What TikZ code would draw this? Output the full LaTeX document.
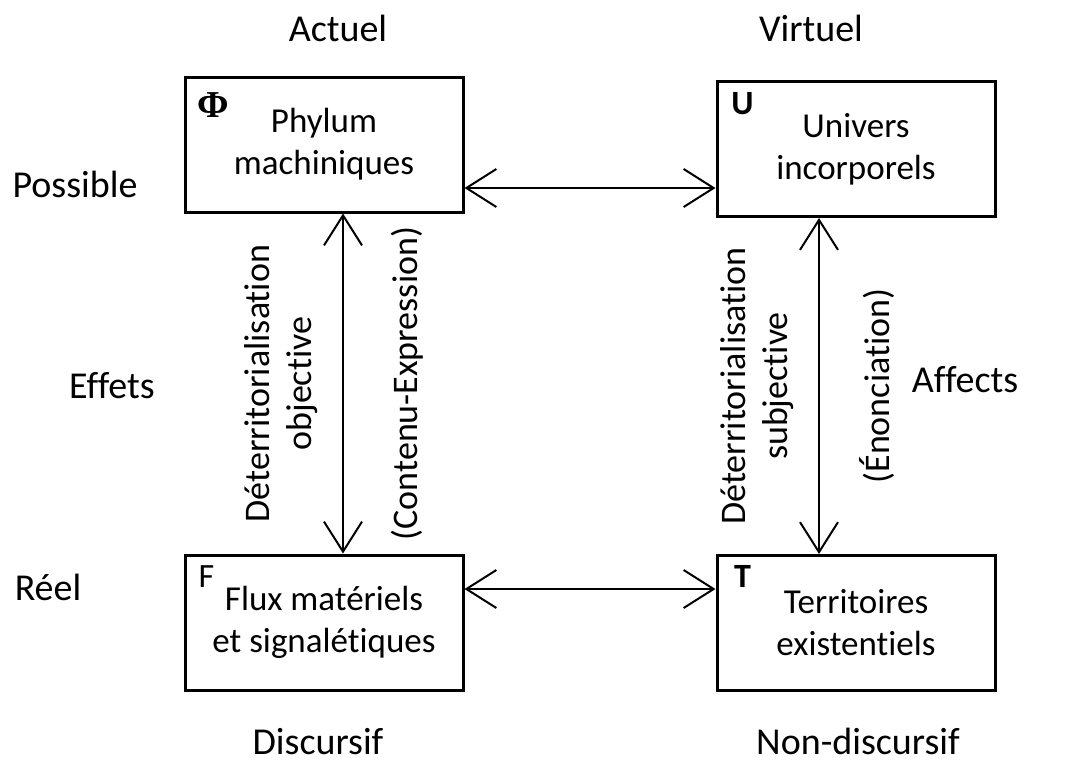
\documentclass[tikz,border=0pt]{standalone}
\usepackage{fontspec}
\setmainfont{Carlito}[RawFeature={-liga;-clig;-dlig}]
\newfontfamily\tagserif{Liberation Serif}
\usetikzlibrary{arrows.meta, positioning, calc}

\begin{document}
\begin{tikzpicture}[
    x=0.5pt, y=-0.5pt,
    cell/.style={draw, line width=1.5pt, minimum width=139pt, minimum height=67.5pt, align=center, font=\fontsize{17.5}{21}\selectfont},
    tag/.style={inner sep=0pt, font=\fontsize{17}{17}\selectfont\bfseries},
    axis/.style={anchor=base, inner sep=1pt, font=\fontsize{19}{23}\selectfont},
    vlabel/.style={rotate=90, align=center, font=\fontsize{18}{21}\selectfont},
    arrow/.style={{Straight Barb[length=15pt, width=19pt]}-{Straight Barb[length=15pt, width=19pt]}, line width=1pt}
]
\useasboundingbox (0,0) rectangle (1070,761);

% Cells
\node[cell] (phi) at (324,144.5) {Phylum\\machiniques};
\node[cell] (univ) at (856,149) {Univers\\incorporels};
\node[cell] (flux) at (324,622.5) {Flux matériels\\et signalétiques};
\node[cell] (terr) at (856,623) {Territoires\\existentiels};

% Tags
\node[tag, font=\tagserif\fontsize{19}{19}\selectfont\bfseries] (phitag) at ($(phi.north west)+(30,30)$) {Φ};
\node[tag, font=\fontsize{17}{17}\selectfont] (fluxtag) at ($(flux.north west)+(23,23)$) {F};
\node[tag] (univtag) at ($(univ.north west)+(27,24)$) {U};
\node[tag] (terrtag) at ($(terr.north west)+(27,22)$) {T};

% Horizontal links
\draw[arrow] ($(phi.east)+(0,43.5)$) -- ($(univ.west)+(0,39)$);
\draw[arrow] ($(flux.east)+(0,-33.5)$) -- ($(terr.west)+(0,-34)$);

% Vertical links
\draw[arrow] ($(phi.south)+(19,0)$) -- ($(flux.north)+(19,0)$)
    node[midway, xshift=-31pt, vlabel] {Déterritorialisation\\objective}
    node[midway, xshift=32pt, vlabel] {(Contenu-Expression)};
\draw[arrow] ($(univ.south)+(-37,0)$) -- ($(terr.north)+(-37,0)$)
    node[midway, xshift=-31pt, vlabel] {Déterritorialisation\\subjective}
    node[midway, xshift=29pt, vlabel] {(Énonciation)};

% Axes
\node[axis] (actuel) at (338,41) {Actuel};
\node[axis] (virtuel) at (811,41) {Virtuel};
\node[axis] (possible) at (75,197) {Possible};
\node[axis] (effets) at (112,398) {Effets};
\node[axis] (affects) at (965,392) {Affects};
\node[axis] (reel) at (48,600) {Réel};
\node[axis] (discursif) at (318,754) {Discursif};
\node[axis] (nondiscursif) at (858,754) {Non-discursif};

\end{tikzpicture}
\end{document}
